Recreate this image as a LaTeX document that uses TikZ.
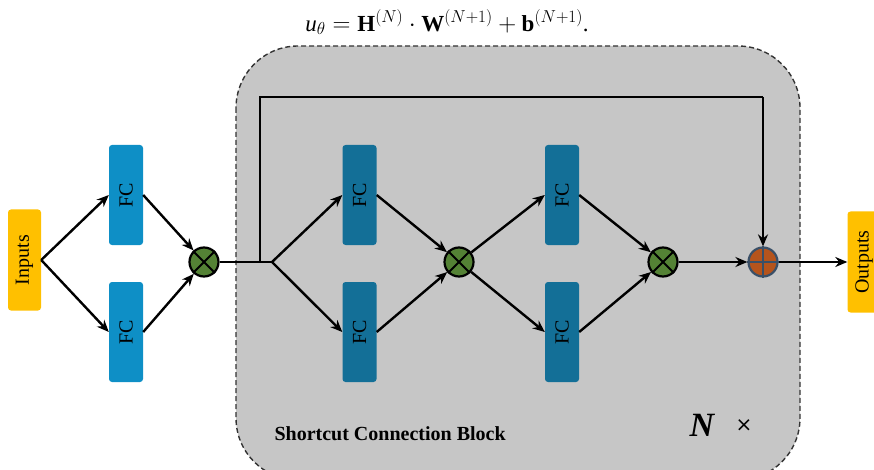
\documentclass[tikz,border=0pt]{standalone}
\usepackage{fontspec}
\setmainfont{Liberation Serif}
\newfontfamily\symfont{DejaVu Sans}
\usetikzlibrary{arrows.meta}
\definecolor{blockgray}{HTML}{C6C6C6}
\definecolor{inyellow}{HTML}{FFC000}
\definecolor{fcblue}{HTML}{0E8FC6}
\definecolor{fcteal}{HTML}{136F97}
\definecolor{mulgreen}{HTML}{548235}
\definecolor{addbrown}{HTML}{B5541C}
\definecolor{addedge}{HTML}{3A5068}
\begin{document}
\begin{tikzpicture}[x=1pt,y=-1pt,
  io/.style={fill=inyellow,rounded corners=3pt,minimum width=33pt,minimum height=101pt,inner sep=0pt},
  fcl/.style={fill=fcblue,rounded corners=3pt,minimum width=34pt,minimum height=100pt,inner sep=0pt},
  fcd/.style={fill=fcteal,rounded corners=3pt,minimum width=34pt,minimum height=100pt,inner sep=0pt},
  lbl/.style={rotate=90,font=\fontsize{20}{20}\selectfont},
  mul/.style={circle,draw=black,line width=2.2pt,fill=mulgreen,minimum size=29pt,inner sep=0pt},
  add/.style={circle,draw=addedge,line width=2.2pt,fill=addbrown,minimum size=29pt,inner sep=0pt},
  conn/.style={line width=2.4pt,-{Stealth[length=12pt,width=10pt]}},
  plain/.style={line width=2.4pt}]
\useasboundingbox (0,0) rectangle (874,470);
\begin{scope}
\clip (0,0) rectangle (874,470);
\draw[fill=blockgray,dash pattern=on 5pt off 3pt,line width=1.4pt,draw=black!80,rounded corners=62pt] (236,46) rectangle (800,480);
\node[io] (in) at (24.5,260) {}; \node[lbl] at (in) {Inputs};
\node[io] (out) at (864,262) {}; \node[lbl] at (out) {Outputs};
\end{scope}
\node[fcl] (f1) at (126,195) {}; \node[lbl] at (f1) {FC};
\node[fcl] (f2) at (126,332) {}; \node[lbl] at (f2) {FC};
\node[fcd] (f3) at (359.5,195) {}; \node[lbl] at (f3) {FC};
\node[fcd] (f4) at (359.5,332) {}; \node[lbl] at (f4) {FC};
\node[fcd] (f5) at (562,195) {}; \node[lbl] at (f5) {FC};
\node[fcd] (f6) at (562,332) {}; \node[lbl] at (f6) {FC};
\node[mul] (m1) at (204,262) {};
\node[mul] (m2) at (459,262) {};
\node[mul] (m3) at (663,262) {};
\node[add] (a1) at (763,262) {};
\foreach \m in {m1,m2,m3}{
  \draw[line width=1.9pt] (\m.north west) -- (\m.south east) (\m.north east) -- (\m.south west);}
\draw[line width=1.9pt,draw=addedge] (a1.north) -- (a1.south) (a1.west) -- (a1.east);
\coordinate (br) at (272,262);
\coordinate (up) at (260,262);
\coordinate (tl) at (260,97);
\coordinate (tr) at (763,97);
\draw[conn] (in.east) -- (f1.west);
\draw[conn] (in.east) -- (f2.west);
\draw[conn] (f1.east) -- (m1);
\draw[conn] (f2.east) -- (m1);
\draw[plain] (m1) -- (br);
\draw[plain] (up) -- (tl) -- (tr);
\draw[conn] (tr) -- (a1.north);
\draw[conn] (br) -- (f3.west);
\draw[conn] (br) -- (f4.west);
\draw[conn] (f3.east) -- (m2);
\draw[conn] (f4.east) -- (m2);
\draw[conn] (m2) -- (f5.west);
\draw[conn] (m2) -- (f6.west);
\draw[conn] (f5.east) -- (m3);
\draw[conn] (f6.east) -- (m3);
\draw[conn] (m3) -- (a1);
\draw[conn] (a1) -- (out.west);
\node[font=\fontsize{20}{20}\selectfont\bfseries,anchor=west] (sc) at (271,434) {Shortcut Connection Block};
\node[font=\fontsize{34}{34}\selectfont\bfseries\itshape] (nn) at (702,425) {N};
\node[font=\fontsize{20}{20}\selectfont\symfont] (xx) at (744,426) {×};
\node[font=\fontsize{23}{23}\selectfont] (eq) at (447,22) {\textit{u}$_{\theta} = \mathbf{H}^{(N)} \cdot \mathbf{W}^{(N+1)} + \mathbf{b}^{(N+1)}$.};
\end{tikzpicture}
\end{document}
